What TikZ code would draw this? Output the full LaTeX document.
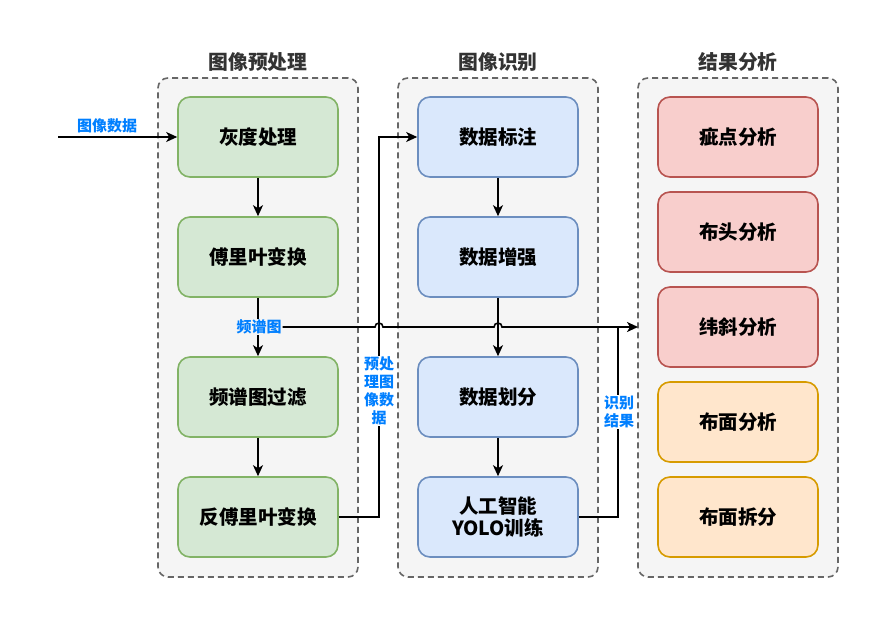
\documentclass[tikz,border=0pt]{standalone}
\usepackage{fontspec}
\setmainfont{Noto Sans CJK SC}
\usetikzlibrary{arrows.meta}
\definecolor{gfill}{HTML}{D5E8D4}\definecolor{gline}{HTML}{82B366}
\definecolor{bfill}{HTML}{DAE8FC}\definecolor{bline}{HTML}{6C8EBF}
\definecolor{rfill}{HTML}{F8CECC}\definecolor{rline}{HTML}{B85450}
\definecolor{ofill}{HTML}{FFE6CC}\definecolor{oline}{HTML}{D79B00}
\definecolor{cfill}{HTML}{F5F5F5}\definecolor{cline}{HTML}{666666}
\definecolor{ttl}{HTML}{333333}\definecolor{lbl}{HTML}{007FFF}
\begin{document}
\begin{tikzpicture}[x=1pt,y=-1pt,
  container/.style={draw=cline,fill=cfill,line width=1.6pt,dash pattern=on 6pt off 4pt,rounded corners=10pt,minimum width=200pt,minimum height=499pt,inner sep=0pt},
  ttlnode/.style={text=ttl,font=\fontsize{19.8}{23}\selectfont\bfseries},
  box/.style={rounded corners=12pt,line width=1.6pt,minimum width=160pt,minimum height=80pt,inner sep=0pt,align=center,font=\fontsize{19.5}{22}\selectfont\bfseries},
  gbox/.style={box,draw=gline,fill=gfill},
  bbox/.style={box,draw=bline,fill=bfill},
  rbox/.style={box,draw=rline,fill=rfill},
  obox/.style={box,draw=oline,fill=ofill},
  conn/.style={line width=1.6pt,draw=black},
  arr/.style={conn,-{Stealth[length=11pt,width=10pt,inset=3pt]}},
  lab/.style={text=lbl,font=\fontsize{15}{18}\selectfont\bfseries,align=center,inner sep=1pt}
]
\useasboundingbox (0,0) rectangle (889,628);
% containers
\node[container] (c1) at (258,327.5) {};
\node[container] (c2) at (498,327.5) {};
\node[container] (c3) at (738,327.5) {};
\node[ttlnode] (t1) at (258,62) {图像预处理};
\node[ttlnode] (t2) at (498,62) {图像识别};
\node[ttlnode] (t3) at (738,62) {结果分析};
% left column
\node[gbox] (g1) at (258,137) {灰度处理};
\node[gbox] (g2) at (258,257) {傅里叶变换};
\node[gbox] (g3) at (258,397) {频谱图过滤};
\node[gbox] (g4) at (258,517) {反傅里叶变换};
% middle column
\node[bbox] (b1) at (498,137) {数据标注};
\node[bbox] (b2) at (498,257) {数据增强};
\node[bbox] (b3) at (498,397) {数据划分};
\node[bbox] (b4) at (498,517) {人工智能\\YOLO训练};
% right column
\node[rbox] (r1) at (738,137) {疵点分析};
\node[rbox] (r2) at (738,232) {布头分析};
\node[rbox] (r3) at (738,327) {纬斜分析};
\node[obox] (r4) at (738,422) {布面分析};
\node[obox] (r5) at (738,517) {布面拆分};
% input
\coordinate (in) at (58,137);
\draw[arr] (in) -- (g1.west);
\node[lab] (lin) at (107,126) {图像数据};
% vertical arrows
\draw[arr] (g1.south) -- (g2.north);
\draw[arr] (g2.south) -- (g3.north);
\draw[arr] (g3.south) -- (g4.north);
\draw[arr] (b1.south) -- (b2.north);
\draw[arr] (b2.south) -- (b3.north);
\draw[arr] (b3.south) -- (b4.north);
% preprocessed image data
\coordinate (p1) at (379,517);
\coordinate (p2) at (379,137);
\draw[arr] (g4.east) -- (p1) -- (p2) -- (b1.west);
\node[lab,fill=white] (lp) at (379,391) {预处\\理图\\像数\\据};
% recognition result
\coordinate (q1) at (618,517);
\coordinate (q2) at (618,327);
\draw[conn] (b4.east) -- (q1) -- (q2);
\node[lab,fill=white] (lq) at (619,412) {识别\\结果};
% spectrum line with hops
\node[lab,fill=cfill] (lf) at (259,327) {频谱图};
\draw[arr] (lf.east) -- (375,327) arc[start angle=180,end angle=360,radius=4] -- (494,327) arc[start angle=180,end angle=360,radius=4] -- (638,327);
\end{tikzpicture}
\end{document}
